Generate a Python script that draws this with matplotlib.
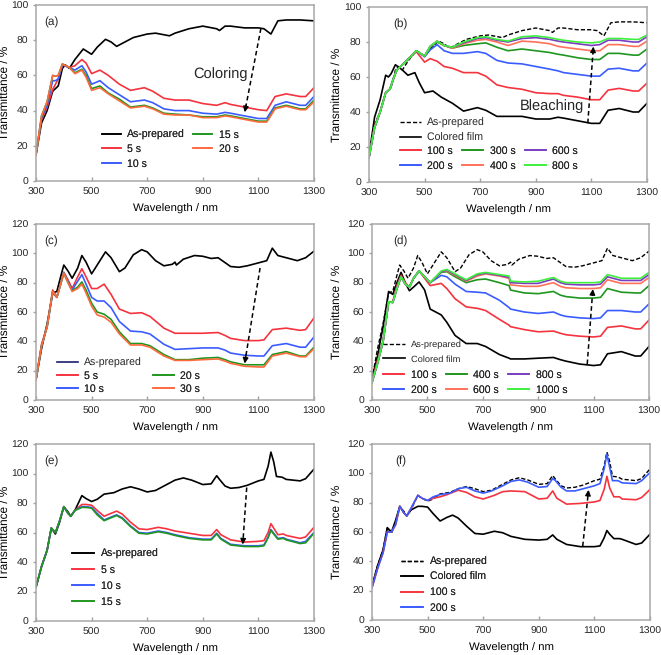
import numpy as np
import matplotlib
matplotlib.use("Agg")
import matplotlib.pyplot as plt

plt.rcParams["font.family"] = ["Liberation Sans", "DejaVu Sans"]
plt.rcParams["text.hinting"] = "no_hinting"
plt.rcParams["text.color"] = "#262626"

# ---------------------------------------------------------------------
# colours
BLACK = "#000000"
RED = "#f5333f"
BLUE = "#3a5cff"
GREEN = "#1f961f"
ORANGE = "#ff6a3d"
PURPLE = "#7a3dbf"
LGREEN = "#3cf03c"
SALMON = "#ff7058"

# ---------------------------------------------------------------------
# panels (a)/(b): wavelength grids (nm) and transmittance (%)
WL_A_PREP = [300, 320, 340, 360, 380, 395, 405, 420, 440, 470, 500, 520, 550, 570,
             590, 620, 650, 700, 730, 780, 800, 850, 900, 950, 960, 980, 1000, 1050,
             1100, 1120, 1145, 1160, 1170, 1200, 1250, 1300]
A_PREP = [15, 33, 40, 51, 54, 64, 66, 64, 69, 75, 72, 76, 80.5, 79,
          76.5, 79, 81.5, 83.5, 84, 82.5, 84, 86.5, 88, 86.5, 85.5, 88, 88, 87,
          87, 86.5, 83.5, 88, 91, 91.5, 91.5, 91]

WL_A = [300, 320, 340, 360, 370, 380, 395, 420, 440, 465, 480, 500, 530, 560, 600,
        640, 690, 720, 760, 800, 850, 900, 950, 980, 1000, 1050, 1100, 1130, 1160,
        1200, 1250, 1270, 1300]
A_5S = [15, 35, 42, 52, 55, 58, 66, 64.5, 65.5, 69, 67, 61, 63, 60, 55,
        51.5, 53, 51, 47, 46, 46, 44, 43, 44.5, 43.5, 42, 40.5, 40, 48,
        49.5, 48, 48, 53]
A_10S = [15, 36, 43, 57, 57, 58, 66, 64.5, 63, 65.5, 62, 55, 57, 53, 49,
         45, 46, 44.5, 41, 40, 40, 38.5, 38, 39, 38.5, 37, 35.5, 35.5, 43,
         45, 43, 43, 48]
A_15S = [15, 37, 45, 60, 59.5, 60, 66.5, 64.5, 61.5, 63.5, 60, 52.5, 54, 50, 46.5,
         42, 43, 41.5, 38.5, 38, 37.5, 36.5, 36.5, 37.5, 37, 35.5, 34, 34, 41.5,
         43, 41, 41, 46]
A_20S = [15, 37, 45, 60, 59.5, 60, 66.5, 64.5, 61, 63, 59, 51.5, 53, 49.5, 45.5,
         41.5, 42.5, 41, 38, 37.5, 37.5, 36, 36, 37, 36.5, 35, 33.5, 33.5, 41,
         42.5, 40.5, 40.5, 45]
B_COLORED = [15, 37, 47, 61, 60, 62, 67, 64, 61, 62.5, 57, 51, 52, 48.5, 45,
             40.5, 42.5, 41, 37.5, 37.5, 37.5, 36, 36, 37, 36.5, 35, 33.5, 33.5, 41,
             42, 40, 40, 45]

WL_B = [300, 320, 340, 360, 375, 390, 400, 420, 440, 470, 500, 520, 545, 570, 600,
        640, 690, 720, 760, 800, 850, 900, 950, 980, 1000, 1050, 1100, 1130, 1160,
        1200, 1250, 1270, 1300]
B_100S = [14, 32, 40, 51, 53, 60, 64, 67, 70, 74.5, 68.5, 70.5, 69, 66, 65,
          62.5, 62.5, 60.5, 55.5, 54, 53, 51, 50.5, 50.5, 49.5, 48.5, 47, 47, 52.5,
          53.5, 52, 52, 56.5]
B_200S = [14, 31, 40, 51, 53, 60, 64, 67, 70, 75, 71.5, 75.5, 78.5, 75, 73.5,
          73.5, 74.5, 73.5, 69.5, 68, 67.5, 66, 64.5, 63.5, 62.5, 61.5, 60.5, 60.5, 64.5,
          65, 63.5, 63.5, 68]
B_300S = [14, 31, 40, 51, 53, 60, 64, 67, 70, 75, 72, 77, 80, 78, 76.5,
          78, 79, 79.5, 77, 75, 76, 75, 74, 73, 72.5, 71, 70, 70, 73.5,
          73.5, 72.5, 72.5, 76]
B_400S = [14, 31, 40, 51, 53, 60, 64, 67, 70, 75, 72, 77.5, 80.5, 78, 76.5,
          79, 81, 81.5, 80, 78, 80.5, 80, 79, 77.5, 77, 76, 75, 75, 78.5,
          78.5, 77.5, 77.5, 80.5]
B_600S = [14, 31, 40, 51, 53, 60, 64, 67, 70, 75, 72, 77.5, 80.5, 78, 77,
          79.5, 82, 82.5, 81, 80, 82, 82.5, 81.5, 80.5, 80, 79, 78, 78.5, 81,
          81, 80, 80, 83]
B_800S = [14, 31, 40, 51, 53, 60, 64, 67, 70, 75, 72, 77.5, 80.5, 78, 77,
          80, 82.5, 83, 81.5, 80.5, 83, 83.5, 82.5, 81.5, 81, 80, 79.5, 80, 82,
          82, 81.5, 81.5, 84]

# ---------------------------------------------------------------------
# panels (c)/(d)
WL_C_PREP = [300, 320, 340, 360, 375, 390, 400, 415, 430, 450, 465, 480, 500, 520,
             550, 570, 600, 620, 650, 680, 700, 730, 760, 790, 800, 805, 830, 870,
             900, 930, 955, 970, 1000, 1030, 1060, 1100, 1130, 1150, 1170, 1200,
             1240, 1270, 1300]
C_PREP = [14, 35, 52, 73, 74, 85, 92, 88, 83, 90, 98.5, 94, 86, 92,
          101, 97, 87.5, 90, 99, 102.5, 101, 95, 91.5, 92.5, 94, 92, 96, 98.5,
          98, 96.5, 97, 95, 91, 90.5, 91.5, 93.5, 95, 103.5, 98.5, 97,
          95, 97, 101.5]

WL_C = [300, 320, 340, 360, 375, 390, 400, 415, 430, 450, 465, 480, 500, 520, 545,
        570, 600, 640, 680, 710, 760, 800, 850, 900, 955, 980, 1000, 1050, 1100,
        1120, 1150, 1200, 1250, 1270, 1300]
C_5S = [14, 38, 50, 75, 70, 80, 87, 82, 76, 84, 89.5, 84, 76, 76, 79,
        72, 62, 59, 59.5, 57, 49, 45.5, 45.5, 45.5, 46, 44, 42, 40.5, 40.5,
        41, 48, 49, 47.5, 48, 56]
C_10S = [14, 37, 50, 73, 70, 80, 87, 81, 75, 81, 85.5, 79, 70, 67.5, 67.5,
         63, 53.5, 47, 46.5, 45, 38, 34.5, 35, 35.5, 35.5, 34, 32, 30.5, 30,
         30, 37, 38.5, 36, 36, 43]
C_20S = [14, 37, 50, 74, 70, 80, 86.5, 80, 74.5, 77, 80.5, 75, 66, 60, 58.5,
         55, 46.5, 38.5, 38.5, 37, 31, 27.5, 27.5, 28.5, 29, 27.5, 26, 24, 24,
         24, 31, 33, 30, 30, 36]
C_30S = [14, 37, 50, 74, 70, 80, 86.5, 80, 74, 76, 79, 73, 64, 58, 56.5,
         53, 45, 37.5, 37.5, 36, 30, 27, 27, 27.5, 28, 26.5, 25, 23, 22.5,
         22.5, 30, 32, 29.5, 29.5, 35]

WL_D = [300, 320, 340, 360, 375, 390, 405, 420, 435, 450, 470, 490, 510, 550, 570,
        600, 640, 680, 710, 760, 795, 800, 850, 900, 955, 980, 1000, 1050, 1100,
        1125, 1150, 1200, 1250, 1270, 1300]
D_COLORED = [15, 30, 50, 74, 72, 80, 87, 80, 74.5, 77, 80.5, 75, 62, 58, 53,
             44, 38.5, 38.5, 36.5, 31, 28.5, 28, 28, 28.5, 29, 27.5, 26.5, 24.5, 23.5,
             24, 31.5, 33, 30, 30, 36.5]
D_100S = [13, 27, 40, 67, 67, 78, 85, 80, 77, 83, 88, 83, 78, 79.5, 76,
          69, 63.5, 62.5, 61, 55, 51, 50, 48, 46.5, 47, 45.5, 44.5, 43.5, 43,
          43.5, 49.5, 50.5, 48.5, 48.5, 54.5]
D_200S = [12, 25, 40, 67, 66.5, 76, 84, 79, 77, 83, 88, 84, 80, 85, 84,
          79, 74, 73.5, 73, 68, 63, 62, 60, 59, 60, 58, 57, 56, 55.5,
          56, 61, 61, 60, 60, 65.5]
D_400S = [12, 25, 40, 67, 66.5, 76, 84, 79, 77, 83, 88, 84, 80, 87, 87.5,
          84, 80, 82, 82.5, 80, 78, 75, 73, 72.5, 74, 71.5, 70.5, 69.5, 69.5,
          70, 76, 73.5, 73, 73, 78]
D_600S = [12, 25, 40, 67, 66.5, 76, 84, 79, 77, 83, 88, 84, 80, 87.5, 88,
          85, 81, 84.5, 86, 84.5, 83, 78.5, 77.5, 77.5, 80, 77.5, 76.5, 76, 76,
          76.5, 82, 79.5, 79.5, 79.5, 83.5]
D_800S = [12, 25, 40, 67, 66.5, 76, 84, 79, 77, 83, 88, 84, 80, 87.5, 88.5,
          85.5, 81.5, 85.5, 86.5, 85, 83.5, 80, 79.5, 79.5, 82.5, 80, 79, 78.5, 78.5,
          79, 84, 81.5, 81.5, 81.5, 85.5]
D_1000S = [12, 25, 40, 67, 66.5, 76, 84, 79, 77, 83, 88, 84, 80, 88, 89,
           86, 82, 86, 87, 85.5, 84.5, 81, 80.5, 81, 83.5, 81, 80, 80, 80,
           80.5, 85.5, 83, 83, 83, 87]

# ---------------------------------------------------------------------
# panels (e)/(f)
WL_E_PREP = [300, 320, 340, 355, 370, 385, 400, 415, 425, 440, 465, 480, 500, 520,
             545, 580, 610, 640, 670, 700, 730, 770, 800, 830, 860, 900, 930, 950,
             960, 980, 1000, 1030, 1060, 1100, 1120, 1135, 1145, 1155, 1165, 1185,
             1200, 1250, 1270, 1300]
E_PREP = [23, 37, 48, 63, 59, 67, 77.5, 74, 71, 75, 85, 83, 81, 82.5,
          86, 87, 89.5, 91, 89.5, 87.5, 88.5, 92.5, 95.5, 97, 95.5, 92.5, 93, 98.5,
          96, 91.5, 90, 90.5, 92, 95, 96, 105, 114.5, 108, 98, 97.5,
          96, 95, 96.5, 103]
F_200S = [22, 35, 46, 60, 60, 65, 77.5, 73, 71, 76, 85, 83, 81.5, 84,
          85.5, 86.5, 89.5, 90.5, 88, 86.5, 88, 91.5, 94.5, 95.5, 94, 90.5, 91, 96.5,
          95, 90.5, 88, 88, 89.5, 91.5, 93, 103, 113, 104, 95, 95,
          93.5, 93, 95, 100.5]

WL_E = [300, 320, 340, 355, 370, 385, 400, 415, 425, 440, 465, 480, 500, 520, 545,
        570, 590, 610, 640, 670, 700, 740, 770, 800, 850, 900, 930, 950, 965, 1000,
        1050, 1100, 1120, 1135, 1145, 1155, 1170, 1190, 1200, 1250, 1270, 1300]
E_5S = [23, 37, 48, 63, 60, 68, 77.5, 73, 71, 75, 79, 79, 78.5, 75, 71,
        73, 74.5, 72.5, 67, 62.5, 62, 63.5, 62.5, 61, 59.5, 58, 58, 62, 58.5, 55,
        53.5, 54, 54.5, 60, 66, 63, 58.5, 59, 58, 56, 57, 63.5]
E_10S = [23, 37, 48, 63, 60, 68, 77.5, 73, 71, 75, 77.5, 77.5, 77, 73, 68.5,
         70.5, 72, 70, 64.5, 60, 59.5, 61, 60, 58.5, 56.5, 55.5, 55.5, 59.5, 56, 52,
         51, 51, 51.5, 57, 62, 59.5, 56, 56.5, 55.5, 53, 54, 60]
E_15S = [23, 37, 48, 63, 60, 68, 77.5, 73, 71, 75, 77, 77, 76.5, 72, 68,
         70, 71.5, 69.5, 64, 59.5, 59, 60.5, 59.5, 58, 56, 55, 55, 59, 55.5, 51.5,
         50.5, 50.5, 51, 56.5, 61.5, 59, 55.5, 56, 55, 52.5, 53, 59.5]
F_COLORED = [23, 37, 48, 63, 60, 68, 77.5, 73, 71, 75, 77.5, 77.5, 77, 72.5, 67.5,
             70, 71.5, 69.5, 64, 59, 58.5, 60.5, 59.5, 57, 55, 54.5, 55, 58, 55, 51.5,
             50, 50, 50.5, 56, 61, 58.5, 55.5, 55.5, 55, 51.5, 52.5, 58.5]
F_100S = [22, 35, 46, 60, 60, 65, 77.5, 73, 71, 76, 85, 83, 81.5, 83, 84,
          85.5, 87, 88.5, 87, 84, 82.5, 85, 87.5, 88, 87.5, 82.5, 83, 88, 83, 79,
          79.5, 80.5, 81.5, 89, 98, 90, 84, 84, 82.5, 82, 83.5, 89]

# arrows: (tail x, tail y, head x, head y)
ARROW_A = (1109, 86.7, 1049, 37.5)
ARROW_B = (1087, 33.6, 1108, 79)
ARROW_C = (1106, 90, 1049, 23)
ARROW_D = (1077, 24.5, 1098, 77.5)
ARROW_E = (1058, 90.5, 1043, 50)
ARROW_F = (1058, 50.3, 1080, 90.6)

W, H = 661, 655
fig = plt.figure(figsize=(W / 100, H / 100), dpi=100)


def make_axes(left, top, right, bottom, ymax, tag, tag_x):
    ax = fig.add_axes([left / W, 1 - bottom / H, (right - left) / W, (bottom - top) / H])
    ax.set_xlim(300, 1300)
    ax.set_ylim(0, ymax)
    ax.set_xticks(range(300, 1301, 200))
    ax.set_yticks(range(0, ymax + 1, 20))
    ax.tick_params(labelsize=7.5, color="#a0a0a0", labelcolor="#262626", width=1)
    ax.tick_params(axis="x", direction="in", length=3, pad=5)
    ax.tick_params(axis="y", direction="out", length=2.5, pad=3)
    for s in ax.spines.values():
        s.set_color("#a8a8a8")
        s.set_linewidth(1.1)
    ax.set_xlabel("Wavelength / nm", fontsize=8.2, labelpad=5)
    ax.set_ylabel("Transmittance / %", fontsize=8.5)
    # right edge of the rotated label sits about 10 px from the figure edge
    ax.yaxis.set_label_coords((10 - (left - (0 if left < 330 else 330))) / (right - left)
                              if left < 330 else (342 - left) / (right - left), 0.5)
    ax.text(tag_x, 0.9, tag, transform=ax.transAxes, fontsize=8.5, va="center")
    return ax


def arrow(ax, a):
    x0, y0, x1, y1 = a
    ax.plot([x0, x0 + 0.93 * (x1 - x0)], [y0, y0 + 0.93 * (y1 - y0)],
            ls=(0, (3, 2)), color="k", lw=1.1)
    ax.annotate("", xy=(x1, y1), xytext=(x0 + 0.85 * (x1 - x0), y0 + 0.85 * (y1 - y0)),
                arrowprops=dict(arrowstyle="-|>", color="k", lw=1.0, mutation_scale=8))


def legend(ax, handles, labels, x, y, ncol=1, size=7.6, colsp=0.8, hl=2.0, sp=0.3):
    lg = ax.legend(handles, labels, loc="upper left", bbox_to_anchor=(x, y),
                   ncol=ncol, frameon=False, fontsize=size, borderpad=0,
                   borderaxespad=0, handlelength=hl, handletextpad=0.6,
                   labelspacing=sp, columnspacing=colsp)
    ax.add_artist(lg)
    return lg


LW = 1.2

# ---------------- (a)
ax = make_axes(36, 5, 314, 181, 100, "(a)", 0.028)
h = []
h += ax.plot(WL_A_PREP, A_PREP, color=BLACK, lw=LW)
h += ax.plot(WL_A, A_5S, color=RED, lw=LW)
h += ax.plot(WL_A, A_10S, color=BLUE, lw=LW)
h += ax.plot(WL_A, A_15S, color=GREEN, lw=LW)
h += ax.plot(WL_A, A_20S, color=ORANGE, lw=LW)
arrow(ax, ARROW_A)
ax.text(865, 61, "Coloring", fontsize=10.5, va="center")
legend(ax, h, ["As-prepared", "5 s", "10 s", "15 s", "20 s"], 0.237, 0.29, ncol=2,
       hl=1.8, sp=0.38)

# ---------------- (b)
ax = make_axes(369, 7, 647, 182, 100, "(b)", 0.086)
h = []
h += ax.plot(WL_A_PREP, A_PREP, color=BLACK, lw=1.0, ls=(0, (3, 1.5)))
h += ax.plot(WL_A, B_COLORED, color=BLACK, lw=LW)
h2 = []
h2 += ax.plot(WL_B, B_100S, color=RED, lw=LW)
h2 += ax.plot(WL_B, B_200S, color=BLUE, lw=LW)
h2 += ax.plot(WL_B, B_300S, color=GREEN, lw=LW)
h2 += ax.plot(WL_B, B_400S, color=SALMON, lw=LW)
h2 += ax.plot(WL_B, B_600S, color=PURPLE, lw=LW)
h2 += ax.plot(WL_B, B_800S, color=LGREEN, lw=LW)
arrow(ax, ARROW_B)
ax.text(1075, 43.5, "Bleaching", fontsize=10.5, va="center", ha="right")
legend(ax, h, ["As-prepared", "Colored film"], 0.11, 0.365, sp=0.4)
legend(ax, h2, ["100 s", "200 s", "300 s", "400 s", "600 s", "800 s"], 0.11, 0.205,
       ncol=3, colsp=0.9, sp=0.4)

# ---------------- (c)
ax = make_axes(36, 224, 314, 400, 120, "(c)", 0.028)
hp = ax.plot(WL_C_PREP, C_PREP, color=BLACK, lw=LW)
h = []
h += ax.plot(WL_C, C_5S, color=RED, lw=LW)
h += ax.plot(WL_C, C_10S, color=BLUE, lw=LW)
h += ax.plot(WL_C, C_20S, color=GREEN, lw=LW)
h += ax.plot(WL_C, C_30S, color=ORANGE, lw=LW)
arrow(ax, ARROW_C)
lg = legend(ax, hp, ["As-prepared"], 0.075, 0.24)
lg.get_lines()[0].set_color("#1c1c70")
legend(ax, h, ["5 s", "10 s", "20 s", "30 s"], 0.075, 0.165, ncol=2, colsp=4.6, sp=0.27)

# ---------------- (d)
ax = make_axes(372, 224, 649, 400, 120, "(d)", 0.076)
h = []
h += ax.plot(WL_C_PREP, C_PREP, color=BLACK, lw=1.0, ls=(0, (3, 1.5)))
h += ax.plot(WL_D, D_COLORED, color=BLACK, lw=LW)
h2 = []
h2 += ax.plot(WL_D, D_100S, color=RED, lw=LW)
h2 += ax.plot(WL_D, D_200S, color=BLUE, lw=LW)
h2 += ax.plot(WL_D, D_400S, color=GREEN, lw=LW)
h2 += ax.plot(WL_D, D_600S, color=SALMON, lw=LW)
h2 += ax.plot(WL_D, D_800S, color=PURPLE, lw=LW)
h2 += ax.plot(WL_D, D_1000S, color=LGREEN, lw=LW)
arrow(ax, ARROW_D)
legend(ax, h, ["As-prepared", "Colored film"], 0.04, 0.335, size=6.7, hl=2.4, sp=0.6)
legend(ax, h2, ["100 s", "200 s", "400 s", "600 s", "800 s", "1000 s"], 0.04, 0.17,
       ncol=3, colsp=0.9, sp=0.42)

# ---------------- (e)
ax = make_axes(36, 444, 314, 621, 120, "(e)", 0.028)
h = []
h += ax.plot(WL_E_PREP, E_PREP, color=BLACK, lw=LW)
h += ax.plot(WL_E, E_5S, color=RED, lw=LW)
h += ax.plot(WL_E, E_10S, color=BLUE, lw=LW)
h += ax.plot(WL_E, E_15S, color=GREEN, lw=LW)
arrow(ax, ARROW_E)
legend(ax, h, ["As-prepared", "5 s", "10 s", "15 s"], 0.13, 0.41, hl=2.1, sp=0.55)

# ---------------- (f)
ax = make_axes(372, 444, 650, 620, 120, "(f)", 0.083)
h = []
h += ax.plot(WL_E_PREP, E_PREP, color=BLACK, lw=1.0, ls=(0, (3, 1.5)))
h += ax.plot(WL_E, F_COLORED, color=BLACK, lw=LW)
h += ax.plot(WL_E, F_100S, color=RED, lw=LW)
h += ax.plot(WL_E_PREP, F_200S, color=BLUE, lw=LW)
arrow(ax, ARROW_F)
legend(ax, h, ["As-prepared", "Colored film", "100 s", "200 s"], 0.105, 0.36,
       hl=2.1, sp=0.48)

fig.savefig("out.png", dpi=100)
